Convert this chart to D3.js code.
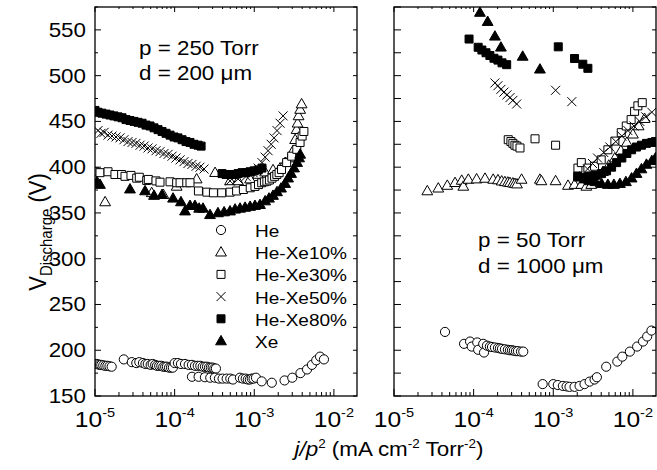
<!DOCTYPE html>
<html>
<head>
<meta charset="utf-8">
<script src="https://cdn.jsdelivr.net/npm/d3@7"></script>
<style>
body { margin: 0; background: #fff; }
svg { display: block; }
text { font-family: Arial, "Liberation Sans", sans-serif; fill: #000; }
</style>
</head>
<body>
<svg id="chart" width="657" height="470"></svg>
<script>
// ---- data: [j/p^2 (mA cm-2 Torr-2), V]
// left panel : p = 250 Torr, d = 200 um
var heL = [[1.0e-5,185],[1.05e-5,185],[1.1e-5,184.5],[1.15e-5,184],[1.2e-5,184],[1.27e-5,183.5],[1.35e-5,183],[1.43e-5,183],[1.52e-5,182.5],[1.62e-5,182],
  [2.3e-5,190],[2.9e-5,187],[3.3e-5,186],[3.6e-5,187],[4.0e-5,186],[4.3e-5,185],[4.6e-5,185],[5.0e-5,184],[5.3e-5,185],[5.7e-5,184],[6.0e-5,183],[6.4e-5,183],[6.8e-5,183],[7.2e-5,182],[7.6e-5,182],[8.0e-5,182],[8.5e-5,181],[9.0e-5,181],[9.5e-5,181],
  [1.0e-4,186],[1.1e-4,186],[1.2e-4,185],[1.35e-4,185],[1.5e-4,184],[1.65e-4,184],[1.8e-4,183],[1.95e-4,183],[2.1e-4,183],[2.25e-4,182],[2.4e-4,182],[2.55e-4,182],[2.7e-4,181],[2.85e-4,181],[3.0e-4,181],[3.15e-4,180],[3.3e-4,180],
  [1.65e-4,171],[2.0e-4,171],[2.4e-4,170.5],[2.8e-4,170],[3.2e-4,170],[3.6e-4,169],[4.0e-4,169],[4.5e-4,169],[5.0e-4,169],[5.4e-4,168],
  [6.6e-4,170],[7.2e-4,169],[7.8e-4,169],[8.3e-4,168],[8.8e-4,168],[9.3e-4,169],[9.8e-4,169],[1.05e-3,170],
  [1.24e-3,166],[1.66e-3,164.5],[2.4e-3,167],[3.0e-3,170],[3.8e-3,175],[4.6e-3,179],[5.3e-3,184],[6.0e-3,189],[6.7e-3,193],[7.5e-3,190]];
var xe10L = [[1.34e-5,362],[5.15e-5,372],[7.22e-5,370],[1.06e-4,379],[1.89e-4,387],[3.22e-4,394],
  [4.96e-4,385],[6.26e-4,385],[8.86e-4,387],[1.12e-3,392],[1.37e-3,394.6],[1.72e-3,397],[2.11e-3,399],[2.44e-3,405],[2.8e-3,410],
  [3.07e-3,418],[3.26e-3,430],[3.4e-3,441],[3.5e-3,448],[3.6e-3,456],[3.77e-3,463],[3.93e-3,469]];
var xe30L = [[1.0e-5,395],[1.155e-5,394],[1.457e-5,395],[1.78e-5,392],[2.16e-5,392],[2.38e-5,390],[2.83e-5,391],[3.34e-5,388],[3.6e-5,389],
  [4.46e-5,385.5],[4.67e-5,386.6],[5.83e-5,385],[6.55e-5,383.6],[8.76e-5,384],[1.06e-4,383],[1.17e-4,383],[1.42e-4,383],[1.56e-4,383],
  [1.99e-4,374],[2.54e-4,372.7],[3.07e-4,372],[3.9e-4,372],[4.97e-4,372.7],[6.0e-4,374],[7.3e-4,375.6],[8.9e-4,377.5],[1.02e-3,379],
  [1.13e-3,381],[1.24e-3,383],[1.34e-3,384],[1.44e-3,384.7],[1.55e-3,386],[1.67e-3,388],[1.8e-3,390],[1.92e-3,392],[2.05e-3,394],
  [2.2e-3,397.5],[2.55e-3,405],[2.95e-3,412],[3.42e-3,419.5],[3.76e-3,427],[3.99e-3,434],[4.2e-3,439]];
var xe50L = [[1.09e-5,440],[1.19e-5,437],[1.30e-5,438],[1.457e-5,435],[1.635e-5,434],[1.835e-5,433],[2.06e-5,432],[2.31e-5,430],
  [2.60e-5,428],[2.92e-5,427],[3.27e-5,426],[3.68e-5,424],[4.13e-5,423],[4.63e-5,421],[5.2e-5,420],[5.84e-5,418],[6.56e-5,417],
  [7.36e-5,415],[8.27e-5,414],[9.28e-5,412],[1.04e-4,410],[1.17e-4,408],[1.31e-4,406],[1.47e-4,404],[1.65e-4,403],[1.86e-4,401],
  [2.08e-4,400],[2.34e-4,398],
  [4.96e-4,385],[6.26e-4,387],[7.89e-4,390],[9.66e-4,394],[1.12e-3,399],[1.25e-3,405],[1.37e-3,411],[1.49e-3,418],[1.63e-3,425],
  [1.77e-3,432],[1.93e-3,440],[2.11e-3,448],[2.3e-3,456]];
var xe80L = [[1.0e-5,462],[1.09e-5,460],[1.22e-5,459],[1.375e-5,458],[1.54e-5,457],[1.73e-5,456],[1.945e-5,455],[2.185e-5,454],
  [2.45e-5,452],[2.75e-5,451],[3.09e-5,450],[3.47e-5,449],[3.9e-5,448],[4.37e-5,446],[4.91e-5,445],[5.51e-5,443],[6.19e-5,441],
  [6.95e-5,439],[7.8e-5,437],[8.76e-5,435],[9.83e-5,433],[1.1e-4,432],[1.24e-4,430],[1.39e-4,428],[1.56e-4,427],[1.75e-4,425],
  [1.97e-4,424],[2.15e-4,423],
  [3.94e-4,393],[4.42e-4,392],[4.96e-4,392],[5.57e-4,392],[6.26e-4,393],[7.03e-4,394],[7.89e-4,394],[8.86e-4,395],[9.95e-4,396],
  [1.12e-3,397],[1.25e-3,399]];
var xeL = [[1.06e-5,384],[1.155e-5,381],[2.75e-5,376],[4.25e-5,374],[5.51e-5,369],[6.95e-5,370],[9.55e-5,366],[1.2e-4,362],
  [1.35e-4,352],[1.56e-4,358],[1.8e-4,358],[2.03e-4,355],[2.27e-4,355],[2.78e-4,348],[3.5e-4,350],[4.18e-4,351],[4.96e-4,352],
  [5.74e-4,354],[6.63e-4,355],[7.67e-4,356],[8.86e-4,357],[1.02e-3,358],[1.18e-3,359],[1.37e-3,363],[1.53e-3,366],[1.72e-3,369],
  [1.93e-3,373],[2.17e-3,377],[2.44e-3,382],[2.66e-3,388],[2.9e-3,393],[3.16e-3,399],[3.45e-3,405],[3.66e-3,410],[3.77e-3,414]];

// right panel : p = 50 Torr, d = 1000 um
var heR = [[4.37e-5,220],[7.58e-5,207],[9.02e-5,209.5],[9.47e-5,204],[1.11e-4,208.5],[1.14e-4,200.5],[1.32e-4,207],[1.35e-4,197.5],
  [1.47e-4,205],[1.6e-4,204],[1.7e-4,203.5],[1.85e-4,203],[2.02e-4,202.5],[2.14e-4,202],[2.27e-4,201.5],[2.47e-4,201],[2.69e-4,200.5],
  [2.86e-4,200],[3.03e-4,200],[3.2e-4,199.5],[3.4e-4,199],[3.6e-4,199],[3.93e-4,198.5],[4.2e-4,198.5],
  [7.36e-4,163],[1.0e-3,163],[1.14e-3,162],[1.32e-3,161],[1.47e-3,160.5],[1.6e-3,160],[1.85e-3,160],[2.14e-3,161],[2.47e-3,163],
  [2.86e-3,165.7],[3.3e-3,168],[3.53e-3,170.5],
  [4.62e-3,182],[6.37e-3,187.6],[7.36e-3,193],[9.16e-3,198.5],[1.13e-2,204],[1.34e-2,209.5],[1.51e-2,215],[1.71e-2,221.5]];
var xe10R = [[2.62e-5,374],[3.6e-5,377],[4.67e-5,380],[5.84e-5,383],[7.08e-5,385.5],[7.42e-5,379],[8.58e-5,386.6],[1.09e-4,387],
  [1.39e-4,387.7],[1.76e-4,386.6],[2.02e-4,386],[2.25e-4,384.7],[2.47e-4,384],[2.69e-4,383.5],[2.86e-4,383],[3.11e-4,382.5],
  [3.3e-4,382],[3.5e-4,381.5],[4.0e-4,386.6],[6.8e-4,386.6],[7.1e-4,385],[1.07e-3,385],[1.53e-3,380],[1.85e-3,381],[2.25e-3,381],
  [2.6e-3,379],[3.0e-3,381],
  [3.53e-3,388],[4.2e-3,395],[4.98e-3,402],[5.94e-3,410],[7.06e-3,418],[8.4e-3,427],[1.0e-2,436],[1.18e-2,445],[1.4e-2,453]];
var xe30R = [[2.72e-4,430],[2.94e-4,428],[3.11e-4,426],[3.3e-4,424],[3.5e-4,423],[3.82e-4,421],[5.9e-4,431],[1.07e-3,424],
  [2.04e-3,399],[2.25e-3,405],[2.72e-3,399],[3.3e-3,401],[4.0e-3,408],[4.85e-3,419],[5.94e-3,428.5],[7.14e-3,437.7],[8.25e-3,445],
  [9.5e-3,452],[1.05e-2,461],[1.155e-2,467],[1.31e-2,470.5]];
var xe50R = [[1.85e-4,492],[2.02e-4,489],[2.2e-4,485],[2.4e-4,482],[2.62e-4,479],[2.86e-4,476],[3.11e-4,473],[3.47e-4,469],
  [1.07e-3,484],[1.71e-3,471.6],
  [2.7e-3,398],[3.11e-3,404],[3.6e-3,410],[4.31e-3,416],[5.14e-3,422],[6.1e-3,428],[7.26e-3,434],[8.65e-3,440],[1.03e-2,445],
  [1.22e-2,450],[1.45e-2,455],[1.73e-2,460]];
var xe80R = [[8.76e-5,540],[1.14e-4,531],[1.27e-4,528],[1.43e-4,525],[1.6e-4,522],[1.8e-4,519],[2.02e-4,517],[2.27e-4,514],[2.6e-4,512],
  [1.155e-3,531.5],[1.85e-3,518.7],[2.35e-3,512.5],[2.72e-3,508],
  [2.02e-3,390],[2.4e-3,389],[2.86e-3,390],[3.39e-3,391],[4.04e-3,393],[4.67e-3,396],[5.4e-3,400],[6.24e-3,405],[7.26e-3,410],
  [8.4e-3,415],[9.63e-3,419],[1.11e-2,422],[1.28e-2,424],[1.48e-2,426],[1.73e-2,427],[1.92e-2,428]];
var xeR = [[1.2e-4,569],[1.5e-4,559],[1.85e-4,543],[2.2e-4,531],[4.13e-4,521],[6.8e-4,507],
  [2.14e-3,389],[2.47e-3,387],[2.86e-3,385],[3.39e-3,384],[4.04e-3,382],[4.85e-3,381],[5.77e-3,381],[6.87e-3,382],[8.17e-3,384],
  [9.63e-3,388],[1.11e-2,393],[1.28e-2,398],[1.48e-2,403],[1.73e-2,407],[1.92e-2,410]];

var seriesNames = ["He", "He-Xe10%", "He-Xe30%", "He-Xe50%", "He-Xe80%", "Xe"];
var leftSeries = [heL, xe10L, xe30L, xe50L, xe80L, xeL];
var rightSeries = [heR, xe10R, xe30R, xe50R, xe80R, xeR];
var yTickValues = [150, 200, 250, 300, 350, 400, 450, 500, 550];
var xTickExp = [-5, -4, -3, -2];

// ---- layout
var svg = d3.select("#chart");
var SX = 1.12;   // the reference text is a bit wider than it is tall
var y = d3.scaleLinear().domain([150, 575]).range([396, 7]);
var xL = d3.scaleLog().domain([1e-5, 0.0195]).range([95, 357]);
var xR = d3.scaleLog().domain([1e-5, 0.0195]).range([394, 656]);

function txt(x, yy, str, size, anchor) {
  return svg.append("text")
    .attr("transform", "translate(" + x + "," + yy + ") scale(" + SX + ",1)")
    .attr("text-anchor", anchor || "start")
    .style("font-size", size + "px")
    .text(str);
}

// marker shapes
function shape(i) {
  if (i == 0) return d3.symbol().type(d3.symbolCircle).size(66)();
  if (i == 1 || i == 5) return "M0,-5.6L5.4,3.8L-5.4,3.8Z";
  if (i == 2 || i == 4) return "M-4,-4H4V4H-4Z";
  return "M-4.5,-4.5L4.5,4.5M-4.5,4.5L4.5,-4.5";
}
function fillOf(i) { return (i == 4 || i == 5) ? "#000" : "#fff"; }

function drawPanel(x, series, id, leftLabels) {
  var x0 = x.range()[0], x1 = x.range()[1];
  var y0 = y.range()[0], y1 = y.range()[1];

  svg.append("clipPath").attr("id", id).append("rect")
    .attr("x", x0).attr("y", y1).attr("width", x1 - x0).attr("height", y0 - y1);

  var g = svg.append("g").attr("clip-path", "url(#" + id + ")");
  series.forEach(function(s, i) {
    g.selectAll("path.s" + i).data(s).enter().append("path")
      .attr("class", "s" + i)
      .attr("transform", function(d) { return "translate(" + x(d[0]) + "," + y(d[1]) + ")"; })
      .attr("d", shape(i))
      .style("fill", fillOf(i))
      .style("stroke", "#000")
      .style("stroke-width", 1);
  });

  // y ticks (every 25)
  var yt = d3.range(150, 576, 25);
  yt.forEach(function(v) {
    var major = v % 50 == 0;
    var lenL = leftLabels ? (major ? 6 : 3) : 7;
    svg.append("line").attr("x1", x0).attr("x2", x0 + lenL).attr("y1", y(v)).attr("y2", y(v))
      .style("stroke", "#000").style("stroke-width", 1);
    svg.append("line").attr("x1", x1).attr("x2", x1 - 4).attr("y1", y(v)).attr("y2", y(v))
      .style("stroke", "#000").style("stroke-width", 1);
  });
  if (leftLabels) {
    yTickValues.forEach(function(v) {
      txt(86, y(v) + 7, String(v), 20, "end");
    });
  }

  // x ticks, log decades with minor ticks
  xTickExp.forEach(function(e) {
    for (var m = 1; m <= 9; m++) {
      var v = m * Math.pow(10, e);
      if (v > x.domain()[1]) break;
      var len = m == 1 ? 7 : 4;
      svg.append("line").attr("x1", x(v)).attr("x2", x(v)).attr("y1", y0).attr("y2", y0 - len)
        .style("stroke", "#000").style("stroke-width", 1);
      svg.append("line").attr("x1", x(v)).attr("x2", x(v)).attr("y1", y1).attr("y2", y1 + len - 2)
        .style("stroke", "#000").style("stroke-width", 1);
    }
    var t = svg.append("text")
      .attr("transform", "translate(" + x(Math.pow(10, e)) + "," + 427 + ") scale(" + SX + ",1)")
      .attr("text-anchor", "middle")
      .style("font-size", "22px");
    t.append("tspan").text("10");
    t.append("tspan").attr("dy", -10).style("font-size", "13px").text(String(e));
  });

  svg.append("rect").attr("x", x0).attr("y", y1).attr("width", x1 - x0).attr("height", y0 - y1)
    .style("fill", "none").style("stroke", "#000").style("stroke-width", 1.3);
}

drawPanel(xL, leftSeries, "clipL", true);
drawPanel(xR, rightSeries, "clipR", false);

// annotations
txt(139, 55, "p = 250 Torr", 20);
txt(139, 80, "d = 200 \u03bcm", 20);
txt(478, 247, "p = 50 Torr", 20);
txt(478, 273, "d = 1000 \u03bcm", 20);

// legend
seriesNames.forEach(function(name, i) {
  var ly = 230 + i * 22.2;
  svg.append("path")
    .attr("transform", "translate(221," + ly + ")")
    .attr("d", shape(i))
    .style("fill", fillOf(i)).style("stroke", "#000").style("stroke-width", 1);
  txt(255, ly + 7, name, 17);
});

// axis titles
var yt = svg.append("text")
  .attr("transform", "translate(46,232) rotate(-90) scale(1," + SX + ")")
  .attr("text-anchor", "middle")
  .style("font-size", "22px");
yt.append("tspan").text("V");
yt.append("tspan").attr("dy", 5).style("font-size", "15px").text("Discharge");
yt.append("tspan").attr("dy", -5).text(" (V)");

var xt = svg.append("text")
  .attr("transform", "translate(389,456) scale(" + SX + ",1)")
  .attr("text-anchor", "middle")
  .style("font-size", "20px");
xt.append("tspan").style("font-style", "italic").text("j/p");
xt.append("tspan").attr("dy", -8).style("font-size", "12px").text("2");
xt.append("tspan").attr("dy", 8).text(" (mA cm");
xt.append("tspan").attr("dy", -8).style("font-size", "12px").text("-2");
xt.append("tspan").attr("dy", 8).text(" Torr");
xt.append("tspan").attr("dy", -8).style("font-size", "12px").text("-2");
xt.append("tspan").attr("dy", 8).text(")");
</script>
</body>
</html>
